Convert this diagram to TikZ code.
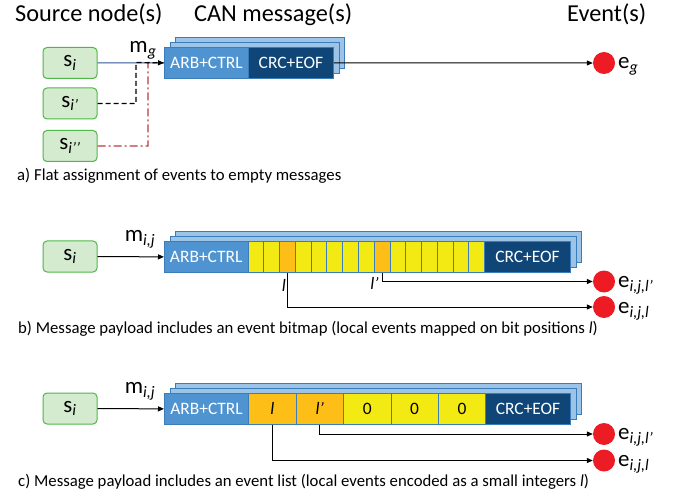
\documentclass[tikz,border=0pt]{standalone}
\usepackage{fontspec}
\setmainfont{Carlito}
\usetikzlibrary{arrows.meta}
\definecolor{srcfill}{HTML}{D5EBD0}
\definecolor{srcborder}{HTML}{4DB848}
\definecolor{layerfill}{HTML}{9DC3E6}
\definecolor{layerborder}{HTML}{3A7DBB}
\definecolor{arbfill}{HTML}{4F94D0}
\definecolor{crcfill}{HTML}{104677}
\definecolor{yel}{HTML}{F2EA12}
\definecolor{org}{HTML}{FDBE18}
\definecolor{evred}{HTML}{ED1C24}
\definecolor{blueline}{HTML}{2F5597}
\definecolor{redline}{HTML}{C0393B}
\newcommand\myfs[1]{\fontsize{#1}{#1}\selectfont}
\tikzset{
  srcbox/.style={draw=srcborder, fill=srcfill, rounded corners=4bp, line width=1bp,
    minimum width=54bp, minimum height=31bp, inner sep=0pt, font=\myfs{23}},
  layerbox/.style={draw=layerborder, fill=layerfill, line width=0.8bp, anchor=north west,
    minimum height=31bp, inner sep=0pt},
  partbox/.style={draw=layerborder, line width=0.8bp, anchor=north west,
    minimum height=31bp, inner sep=0pt, font=\myfs{17.5}},
  arbbox/.style={partbox, fill=arbfill, text=white},
  crcbox/.style={partbox, fill=crcfill, text=white},
  cellbox/.style={partbox, text=black},
  evdot/.style={circle, fill=evred, minimum size=22bp, inner sep=0pt},
  lbltxt/.style={inner sep=1bp, font=\myfs{23}},
  smalltxt/.style={inner sep=1bp, font=\myfs{17.5}},
  headtxt/.style={inner sep=0pt, anchor=base west, font=\myfs{24.4}},
  captxt/.style={inner sep=0pt, anchor=base west, font=\myfs{16.8}},
  arr/.style={-{Triangle[length=6bp,width=5bp]}, line width=1bp, black},
}
\begin{document}
\begin{tikzpicture}[x=1bp,y=-1bp]
\fill[white] (0,0) rectangle (677,496);
\useasboundingbox (0,0) rectangle (677,496);

% headings
\node[headtxt] (h1) at (15,22) {Source node(s)};
\node[headtxt] (h2) at (194,22) {CAN message(s)};
\node[headtxt] (h3) at (567,22) {Event(s)};

% ---------------- panel a
\node[srcbox] (sa) at (70,63) {s\textsubscript{\textit{i}}};
\node[srcbox] (sb) at (70,103.5) {s\textsubscript{\textit{i’}}};
\node[srcbox] (sc) at (70,146) {s\textsubscript{\textit{i’’}}};
\node[layerbox, minimum width=169bp] (a3) at (175,37) {};
\node[layerbox, minimum width=169bp] (a2) at (170,42) {};
\node[arbbox, minimum width=84bp] (arba) at (164,47) {ARB+CTRL};
\node[crcbox, minimum width=85bp] (crca) at (248,47) {CRC+EOF};
\coordinate (jblk) at (136,62.5);
\coordinate (jred) at (148,62.5);
\node[lbltxt] (mg) at (143,50) {m\textsubscript{\textit{g}}};
\draw[blueline, line width=1bp] (sa.east) -- (arba.west);
\draw[redline, line width=1.2bp, dash pattern=on 8bp off 3bp on 2bp off 3bp] (sc.east) -| (jred) -- (arba.west);
\draw[arr, line width=1.2bp, dash pattern=on 5bp off 3bp] (sb.east) -| (jblk) -- (arba.west);
\node[evdot] (eg) at (604,63) {};
\node[lbltxt, anchor=west] (egl) at (617,66) {e\textsubscript{\textit{g}}};
\draw[arr] (crca.east) -- (eg.west);
\node[captxt] (capa) at (17,181) {a) Flat assignment of events to empty messages};

% ---------------- panel b
\node[srcbox] (srcb) at (70,256.5) {s\textsubscript{\textit{i}}};
\node[layerbox, minimum width=406bp] (b3) at (175,231) {};
\node[layerbox, minimum width=406bp] (b2) at (170,236) {};
\node[arbbox, minimum width=83.5bp] (arbb) at (164,241) {ARB+CTRL};
\foreach \k/\c in {0/yel,1/yel,2/org,3/yel,4/yel,5/yel,6/yel,7/yel,8/org,9/yel,10/yel,11/yel,12/yel,13/yel,14/yel}
  \node[cellbox, fill=\c, minimum width=15.78bp] (bc\k) at (247.5+\k*15.78,241) {};
\node[crcbox, minimum width=85.8bp] (crcb) at (484.2,241) {CRC+EOF};
\node[lbltxt] (mb) at (140,239) {m\textsubscript{\textit{i,j}}};
\draw[arr] (srcb.east) -- (arbb.west);
\node[evdot] (eb1) at (604,281.5) {};
\node[evdot] (eb2) at (604,307) {};
\node[lbltxt, anchor=west] (eb1l) at (617,285) {e\textsubscript{\textit{i,j,l’}}};
\node[lbltxt, anchor=west] (eb2l) at (617,311) {e\textsubscript{\textit{i,j,l}}};
\draw[arr] (bc8.south) |- (eb1.west);
\draw[arr] (bc2.south) |- (eb2.west);
\node[smalltxt, anchor=east] (lb1) at (287,285) {\textit{l}};
\node[smalltxt, anchor=east] (lb2) at (380,283) {\textit{l’}};
\node[captxt] (capb) at (18,333) {b) Message payload includes an event bitmap (local events mapped on bit positions \textit{l})};

% ---------------- panel c
\node[srcbox] (srcc) at (70,408.5) {s\textsubscript{\textit{i}}};
\node[layerbox, minimum width=406bp] (c3) at (175,383) {};
\node[layerbox, minimum width=406bp] (c2) at (170,388) {};
\node[arbbox, minimum width=84.3bp] (arbc) at (164,393) {ARB+CTRL};
\foreach \k/\c/\t in {0/org/\textit{l},1/org/\textit{l’},2/yel/0,3/yel/0,4/yel/0}
  \node[cellbox, fill=\c, minimum width=47.4bp] (cc\k) at (248.3+\k*47.4,393) {\t};
\node[crcbox, minimum width=84.7bp] (crcc) at (485.3,393) {CRC+EOF};
\node[lbltxt] (mc) at (140,391) {m\textsubscript{\textit{i,j}}};
\draw[arr] (srcc.east) -- (arbc.west);
\node[evdot] (ec1) at (604,434) {};
\node[evdot] (ec2) at (604,460.5) {};
\node[lbltxt, anchor=west] (ec1l) at (617,437.5) {e\textsubscript{\textit{i,j,l’}}};
\node[lbltxt, anchor=west] (ec2l) at (617,464) {e\textsubscript{\textit{i,j,l}}};
\draw[arr] (cc1.south) |- (ec1.west);
\draw[arr] (cc0.south) |- (ec2.west);
\node[captxt] (capc) at (18,486) {c) Message payload includes an event list (local events encoded as a small integers \textit{l})};
\end{tikzpicture}
\end{document}
